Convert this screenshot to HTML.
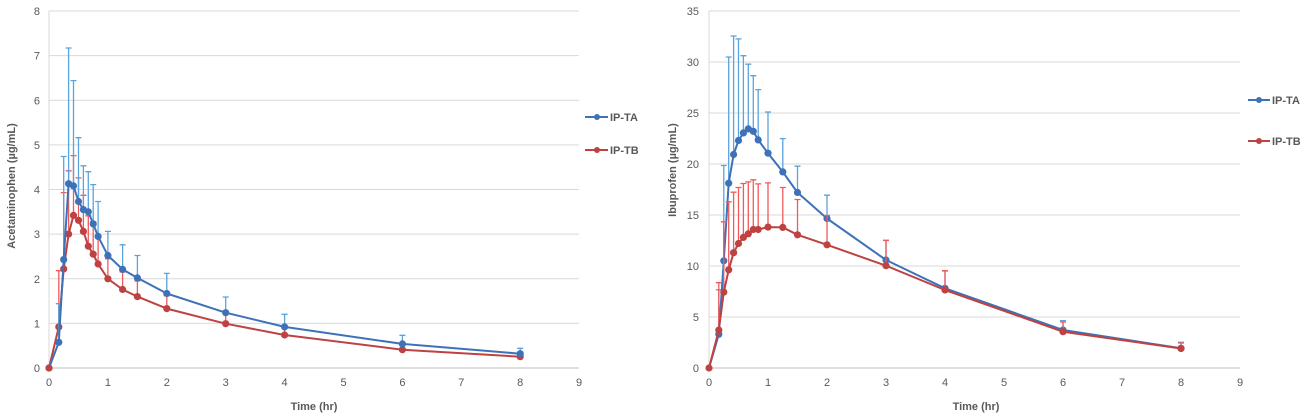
<!DOCTYPE html>
<html><head><meta charset="utf-8"><style>
html,body{margin:0;padding:0;background:#fff;}
svg{display:block;}
text{font-family:"Liberation Sans",sans-serif;fill:#595959;}
.tk{font-size:11px;}
.ttl{font-size:11px;font-weight:bold;}
.g{stroke:#D9D9D9;stroke-width:1;}
.ax{stroke:#BFBFBF;stroke-width:1;}
.eb{stroke:#5BA3DC;stroke-width:1.3;fill:none;}
.er{stroke:#F25A5A;stroke-width:1.3;fill:none;}
.lb{stroke:#3E72B8;stroke-width:2;fill:none;stroke-linejoin:round;}
.lr{stroke:#BE4241;stroke-width:2;fill:none;stroke-linejoin:round;}
.mb{fill:#3E72B8;}
.mr{fill:#BE4241;}
</style></head><body>
<svg width="1300" height="418" viewBox="0 0 1300 418" xmlns="http://www.w3.org/2000/svg">
<!-- LEFT CHART -->
<g>
<line class="g" x1="49" y1="11" x2="579" y2="11"/>
<line class="g" x1="49" y1="55.6" x2="579" y2="55.6"/>
<line class="g" x1="49" y1="100.25" x2="579" y2="100.25"/>
<line class="g" x1="49" y1="144.9" x2="579" y2="144.9"/>
<line class="g" x1="49" y1="189.5" x2="579" y2="189.5"/>
<line class="g" x1="49" y1="234.1" x2="579" y2="234.1"/>
<line class="g" x1="49" y1="278.75" x2="579" y2="278.75"/>
<line class="g" x1="49" y1="323.4" x2="579" y2="323.4"/>
<line class="g" x1="49" y1="11" x2="49" y2="368"/>
<line class="ax" x1="49" y1="368" x2="579" y2="368"/>
<g class="tk" text-anchor="end">
<text x="40" y="15">8</text><text x="40" y="59.6">7</text><text x="40" y="104.3">6</text><text x="40" y="148.9">5</text>
<text x="40" y="193.5">4</text><text x="40" y="238.1">3</text><text x="40" y="282.8">2</text><text x="40" y="327.4">1</text><text x="40" y="372">0</text>
</g>
<g class="tk" text-anchor="middle">
<text x="49" y="386">0</text><text x="107.9" y="386">1</text><text x="166.8" y="386">2</text><text x="225.7" y="386">3</text><text x="284.6" y="386">4</text>
<text x="343.5" y="386">5</text><text x="402.4" y="386">6</text><text x="461.3" y="386">7</text><text x="520.2" y="386">8</text><text x="579" y="386">9</text>
</g>
<text class="ttl" x="314" y="410" text-anchor="middle">Time (hr)</text>
<text class="ttl" transform="translate(15,186) rotate(-90)" text-anchor="middle">Acetaminophen (µg/mL)</text>

<!-- red error bars -->
<path class="er" d="M58.8 326.9V270.7M55.8 270.7h6
M63.7 268.9V192.6M60.7 192.6h6
M68.6 234.1V170.8M65.6 170.8h6
M73.5 215.4V155.6M70.5 155.6h6
M78.5 220.3V177.9M75.5 177.9h6
M83.4 231.4V195.3M80.4 195.3h6
M88.3 246.2V215.8M85.3 215.8h6
M93.2 254.2V221.6M90.2 221.6h6
M98.1 264V236.4M95.1 236.4h6
M107.9 278.8V258.7M104.9 258.7h6
M122.6 289.5V272M119.6 272h6
M137.4 296.6V281M134.4 281h6
M166.8 308.6V295.7M163.8 295.7h6
M225.7 323.7V313.6M222.7 313.6h6
M284.6 335V327M281.6 327h6
M402.4 349.7V343.5M399.4 343.5h6
M520.2 356.7V353.3M517.2 353.3h6"/>
<!-- red line -->
<path class="lr" d="M49 368L58.8 326.9L63.7 268.9L68.6 234.1L73.5 215.4L78.5 220.3L83.4 231.4L88.3 246.2L93.2 254.2L98.1 264L107.9 278.8L122.6 289.5L137.4 296.6L166.8 308.6L225.7 323.7L284.6 335L402.4 349.7L520.2 356.7"/>
<g class="mr">
<circle cx="49" cy="368" r="3.6"/><circle cx="58.8" cy="326.9" r="3.6"/><circle cx="63.7" cy="268.9" r="3.6"/><circle cx="68.6" cy="234.1" r="3.6"/>
<circle cx="73.5" cy="215.4" r="3.6"/><circle cx="78.5" cy="220.3" r="3.6"/><circle cx="83.4" cy="231.4" r="3.6"/><circle cx="88.3" cy="246.2" r="3.6"/>
<circle cx="93.2" cy="254.2" r="3.6"/><circle cx="98.1" cy="264" r="3.6"/><circle cx="107.9" cy="278.8" r="3.6"/><circle cx="122.6" cy="289.5" r="3.6"/>
<circle cx="137.4" cy="296.6" r="3.6"/><circle cx="166.8" cy="308.6" r="3.6"/><circle cx="225.7" cy="323.7" r="3.6"/><circle cx="284.6" cy="335" r="3.6"/>
<circle cx="402.4" cy="349.7" r="3.6"/><circle cx="520.2" cy="356.7" r="3.6"/>
</g>
<!-- blue error bars -->
<path class="eb" d="M58.8 342.3V303.7M55.8 303.7h6
M63.7 259.6V156.5M60.7 156.5h6
M68.6 183.7V48M65.6 48h6
M73.5 185.9V80.6M70.5 80.6h6
M78.5 201.5V137.7M75.5 137.7h6
M83.4 209.6V165.8M80.4 165.8h6
M88.3 211.8V171.7M85.3 171.7h6
M93.2 223.9V184.6M90.2 184.6h6
M98.1 236.4V201.5M95.1 201.5h6
M107.9 255.5V231.4M104.9 231.4h6
M122.6 269.4V244.8M119.6 244.8h6
M137.4 277.9V255.5M134.4 255.5h6
M166.8 293.5V273.4M163.8 273.4h6
M225.7 312.7V297M222.7 297h6
M284.6 326.9V314.3M281.6 314.3h6
M402.4 343.9V335.3M399.4 335.3h6
M520.2 353.7V348.3M517.2 348.3h6"/>
<path class="lb" d="M49 368L58.8 342.3L63.7 259.6L68.6 183.7L73.5 185.9L78.5 201.5L83.4 209.6L88.3 211.8L93.2 223.9L98.1 236.4L107.9 255.5L122.6 269.4L137.4 277.9L166.8 293.5L225.7 312.7L284.6 326.9L402.4 343.9L520.2 353.7"/>
<g class="mb">
<circle cx="58.8" cy="342.3" r="3.6"/><circle cx="63.7" cy="259.6" r="3.6"/><circle cx="68.6" cy="183.7" r="3.6"/>
<circle cx="73.5" cy="185.9" r="3.6"/><circle cx="78.5" cy="201.5" r="3.6"/><circle cx="83.4" cy="209.6" r="3.6"/><circle cx="88.3" cy="211.8" r="3.6"/>
<circle cx="93.2" cy="223.9" r="3.6"/><circle cx="98.1" cy="236.4" r="3.6"/><circle cx="107.9" cy="255.5" r="3.6"/><circle cx="122.6" cy="269.4" r="3.6"/>
<circle cx="137.4" cy="277.9" r="3.6"/><circle cx="166.8" cy="293.5" r="3.6"/><circle cx="225.7" cy="312.7" r="3.6"/><circle cx="284.6" cy="326.9" r="3.6"/>
<circle cx="402.4" cy="343.9" r="3.6"/><circle cx="520.2" cy="353.7" r="3.6"/>
</g>
<circle class="mr" cx="49" cy="368" r="3.6"/>
<!-- legend -->
<line x1="585" y1="117" x2="608" y2="117" stroke="#3E72B8" stroke-width="2"/>
<circle class="mb" cx="597" cy="117" r="3"/>
<text class="ttl" x="610" y="121">IP-TA</text>
<line x1="585" y1="150" x2="608" y2="150" stroke="#BE4241" stroke-width="2"/>
<circle class="mr" cx="597" cy="150" r="3"/>
<text class="ttl" x="610" y="154">IP-TB</text>
</g>

<!-- RIGHT CHART -->
<g>
<line class="g" x1="709" y1="11" x2="1240" y2="11"/>
<line class="g" x1="709" y1="62" x2="1240" y2="62"/>
<line class="g" x1="709" y1="113" x2="1240" y2="113"/>
<line class="g" x1="709" y1="164" x2="1240" y2="164"/>
<line class="g" x1="709" y1="215" x2="1240" y2="215"/>
<line class="g" x1="709" y1="266" x2="1240" y2="266"/>
<line class="g" x1="709" y1="317" x2="1240" y2="317"/>
<line class="g" x1="709" y1="11" x2="709" y2="368"/>
<line class="ax" x1="709" y1="368" x2="1240" y2="368"/>
<g class="tk" text-anchor="end">
<text x="699" y="15">35</text><text x="699" y="66">30</text><text x="699" y="117">25</text><text x="699" y="168">20</text>
<text x="699" y="219">15</text><text x="699" y="270">10</text><text x="699" y="321">5</text><text x="699" y="372">0</text>
</g>
<g class="tk" text-anchor="middle">
<text x="709" y="386">0</text><text x="768" y="386">1</text><text x="827" y="386">2</text><text x="886" y="386">3</text><text x="945" y="386">4</text>
<text x="1004" y="386">5</text><text x="1063" y="386">6</text><text x="1122" y="386">7</text><text x="1181" y="386">8</text><text x="1240" y="386">9</text>
</g>
<text class="ttl" x="976" y="410" text-anchor="middle">Time (hr)</text>
<text class="ttl" transform="translate(676,170) rotate(-90)" text-anchor="middle">Ibuprofen (µg/mL)</text>

<!-- blue error bars -->
<path class="eb" d="M718.8 334.3V289.8M715.8 289.8h6
M723.8 260.8V165.5M720.8 165.5h6
M728.7 183.2V57M725.7 57h6
M733.6 154.5V36M730.6 36h6
M738.5 140.5V38.9M735.5 38.9h6
M743.4 132.9V55.7M740.4 55.7h6
M748.3 128.9V64.2M745.3 64.2h6
M753.3 131.3V75.7M750.3 75.7h6
M758.2 139.9V89.6M755.2 89.6h6
M768 153.2V112M765 112h6
M782.8 171.9V138.6M779.8 138.6h6
M797.5 192.5V166.2M794.5 166.2h6
M827 218.5V195.2M824 195.2h6
M886 260V240.5M883 240.5h6
M945 288.3V271M942 271h6
M1063 330V320.7M1060 320.7h6
M1181 348.3V342.3M1178 342.3h6"/>
<path class="lb" d="M709 368L718.8 334.3L723.8 260.8L728.7 183.2L733.6 154.5L738.5 140.5L743.4 132.9L748.3 128.9L753.3 131.3L758.2 139.9L768 153.2L782.8 171.9L797.5 192.5L827 218.5L886 260L945 288.3L1063 330L1181 348.3"/>
<g class="mb">
<circle cx="718.8" cy="334.3" r="3.6"/><circle cx="723.8" cy="260.8" r="3.6"/><circle cx="728.7" cy="183.2" r="3.6"/>
<circle cx="733.6" cy="154.5" r="3.6"/><circle cx="738.5" cy="140.5" r="3.6"/><circle cx="743.4" cy="132.9" r="3.6"/><circle cx="748.3" cy="128.9" r="3.6"/>
<circle cx="753.3" cy="131.3" r="3.6"/><circle cx="758.2" cy="139.9" r="3.6"/><circle cx="768" cy="153.2" r="3.6"/><circle cx="782.8" cy="171.9" r="3.6"/>
<circle cx="797.5" cy="192.5" r="3.6"/><circle cx="827" cy="218.5" r="3.6"/><circle cx="886" cy="260" r="3.6"/><circle cx="945" cy="288.3" r="3.6"/>
<circle cx="1063" cy="330" r="3.6"/><circle cx="1181" cy="348.3" r="3.6"/>
</g>
<!-- red error bars -->
<path class="er" d="M718.8 330.1V282.7M715.8 282.7h6
M723.8 292.1V221.8M720.8 221.8h6
M728.7 269.8V201.8M725.7 201.8h6
M733.6 252.7V192.2M730.6 192.2h6
M738.5 243.5V187.5M735.5 187.5h6
M743.4 237.4V183.5M740.4 183.5h6
M748.3 233.8V181.9M745.3 181.9h6
M753.3 229.5V179.8M750.3 179.8h6
M758.2 229.5V183.9M755.2 183.9h6
M768 227.1V182.9M765 182.9h6
M782.8 227.4V187.5M779.8 187.5h6
M797.5 234.8V199.5M794.5 199.5h6
M827 244.8V215.5M824 215.5h6
M886 265.7V240.3M883 240.3h6
M945 290V270.7M942 270.7h6
M1063 331.7V322M1060 322h6
M1181 348.5V343M1178 343h6"/>
<path class="lr" d="M709 368L718.8 330.1L723.8 292.1L728.7 269.8L733.6 252.7L738.5 243.5L743.4 237.4L748.3 233.8L753.3 229.5L758.2 229.5L768 227.1L782.8 227.4L797.5 234.8L827 244.8L886 265.7L945 290L1063 331.7L1181 348.5"/>
<g class="mr">
<circle cx="709" cy="368" r="3.6"/><circle cx="718.8" cy="330.1" r="3.6"/><circle cx="723.8" cy="292.1" r="3.6"/><circle cx="728.7" cy="269.8" r="3.6"/>
<circle cx="733.6" cy="252.7" r="3.6"/><circle cx="738.5" cy="243.5" r="3.6"/><circle cx="743.4" cy="237.4" r="3.6"/><circle cx="748.3" cy="233.8" r="3.6"/>
<circle cx="753.3" cy="229.5" r="3.6"/><circle cx="758.2" cy="229.5" r="3.6"/><circle cx="768" cy="227.1" r="3.6"/><circle cx="782.8" cy="227.4" r="3.6"/>
<circle cx="797.5" cy="234.8" r="3.6"/><circle cx="827" cy="244.8" r="3.6"/><circle cx="886" cy="265.7" r="3.6"/><circle cx="945" cy="290" r="3.6"/>
<circle cx="1063" cy="331.7" r="3.6"/><circle cx="1181" cy="348.5" r="3.6"/>
</g>
<!-- legend -->
<line x1="1248" y1="100" x2="1270" y2="100" stroke="#3E72B8" stroke-width="2"/>
<circle class="mb" cx="1259" cy="100" r="3"/>
<text class="ttl" x="1272" y="104">IP-TA</text>
<line x1="1248" y1="141" x2="1270" y2="141" stroke="#BE4241" stroke-width="2"/>
<circle class="mr" cx="1259" cy="141" r="3"/>
<text class="ttl" x="1272" y="145">IP-TB</text>
</g>
</svg>
</body></html>
